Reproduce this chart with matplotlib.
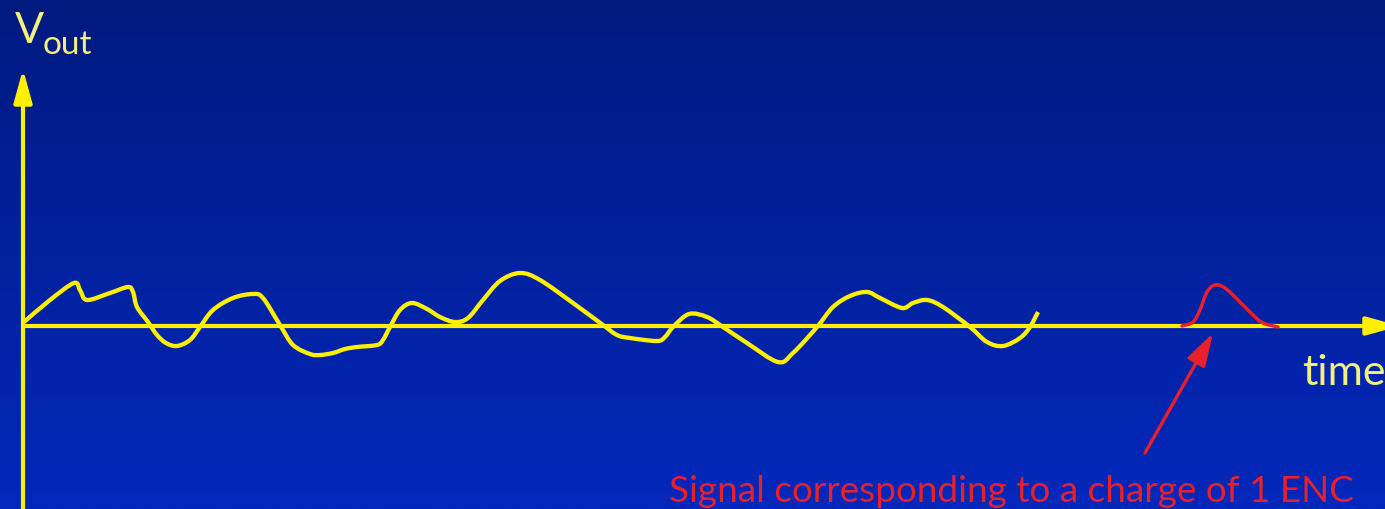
import numpy as np
import matplotlib
matplotlib.use("Agg")
import matplotlib.pyplot as plt
from matplotlib.colors import LinearSegmentedColormap
from matplotlib.path import Path
from matplotlib.patches import PathPatch

# Noise trace: time and Vout (arbitrary units, baseline = 0)
noise_t = [1, 27, 51, 57, 64, 87, 105, 110, 114, 125, 134, 143, 154, 167, 177, 190,
           210, 230, 240, 257, 270, 287, 297, 310, 322, 334, 354, 360, 367, 377, 389,
           404, 417, 432, 445, 460, 477, 497, 517, 550, 580, 594, 607, 634, 642, 650,
           666, 684, 700, 724, 755, 770, 794, 810, 827, 844, 857, 879, 890, 904, 920,
           947, 964, 980, 997, 1007, 1015]
noise_v = [4, 26, 43, 36, 26, 33, 39, 34, 19, 4, -9, -17, -20, -14, -1, 16,
           28, 32, 28, 1, -19, -28, -29, -27, -23, -21, -19, -14, -1, 16, 23,
           17, 9, 4, 8, 26, 45, 53, 46, 23, 1, -9, -12, -15, -11, -1,
           12, 9, -1, -17, -36, -27, -1, 19, 30, 34, 28, 18, 23, 26, 19,
           -1, -16, -20, -12, -1, 14]

# Signal pulse of 1 ENC
pulse_t = [1159, 1170, 1177, 1184, 1192, 1202, 1217, 1230, 1240, 1255]
pulse_v = [0, 4, 16, 34, 41, 38, 24, 11, 3, -1]

YELLOW = "#fff000"
TEXT_YELLOW = "#f4f07e"
RED = "#e8202c"
FONT = ["Lato", "DejaVu Sans"]


def smooth_path(t, v):
    # Catmull-Rom through the read points, drawn as cubic Bezier segments
    p = np.column_stack([t, v]).astype(float)
    ext = np.vstack([p[0], p, p[-1]])
    verts = [p[0]]
    codes = [Path.MOVETO]
    for i in range(1, len(ext) - 2):
        c1 = ext[i] + (ext[i + 1] - ext[i - 1]) / 6
        c2 = ext[i + 1] - (ext[i + 2] - ext[i]) / 6
        verts += [c1, c2, ext[i + 1]]
        codes += [Path.CURVE4] * 3
    return Path(verts, codes)


fig = plt.figure(figsize=(13.85, 5.09), dpi=100)
ax = fig.add_axes([0, 0, 1, 1])
ax.set_xlim(-23, 1362)
ax.set_ylim(-183, 326)
ax.axis("off")

# slide background, dark navy at the top to brighter blue at the bottom
bg = LinearSegmentedColormap.from_list("slide", ["#0328bb", "#001a80"])
grad = np.linspace(0, 1, 256).reshape(-1, 1)
ax.imshow(grad, cmap=bg, extent=(-23, 1362, -183, 326), aspect="auto",
          origin="lower", interpolation="bilinear", zorder=0)

# axes with arrow heads
axis_style = dict(arrowstyle="-|>,head_length=2.0,head_width=0.55", color=YELLOW,
                  lw=3, mutation_scale=10, shrinkA=0, shrinkB=0)
ax.annotate("", xy=(1377, 0), xytext=(0, 0), arrowprops=axis_style,
            annotation_clip=False, zorder=2)
ax.annotate("", xy=(0, 257), xytext=(0, -200), arrowprops=axis_style,
            annotation_clip=False, zorder=2)

# noise and signal
ax.add_patch(PathPatch(smooth_path(noise_t, noise_v), fill=False, ec=YELLOW, lw=3.1,
                       joinstyle="round", capstyle="butt", zorder=3))
ax.add_patch(PathPatch(smooth_path(pulse_t, pulse_v), fill=False, ec=RED, lw=2.5,
                       joinstyle="round", capstyle="round", zorder=4))

# pointer to the pulse
ax.annotate("", xy=(1190, -7), xytext=(1122, -127),
            arrowprops=dict(arrowstyle="-|>,head_length=2.0,head_width=0.6", color=RED,
                            lw=2.4, mutation_scale=10, shrinkA=0, shrinkB=0), zorder=4)

# labels
ax.text(-8, 283, "V", color=TEXT_YELLOW, fontsize=31, family=FONT, va="baseline")
ax.text(20, 272, "out", color=TEXT_YELLOW, fontsize=24, family=FONT, va="baseline")
ax.text(1279, -59, "time", color=TEXT_YELLOW, fontsize=31, family=FONT, va="baseline")

note = ax.text(646, -176, "Signal corresponding to a charge of 1 ENC", color=RED,
               fontsize=30, family=FONT, va="baseline")
# shrink the note to the width it takes on the slide
r = fig.canvas.get_renderer()
w = note.get_window_extent(renderer=r).width
note.set_fontsize(30 * 684 / w)

fig.savefig("out.png", dpi=100)
